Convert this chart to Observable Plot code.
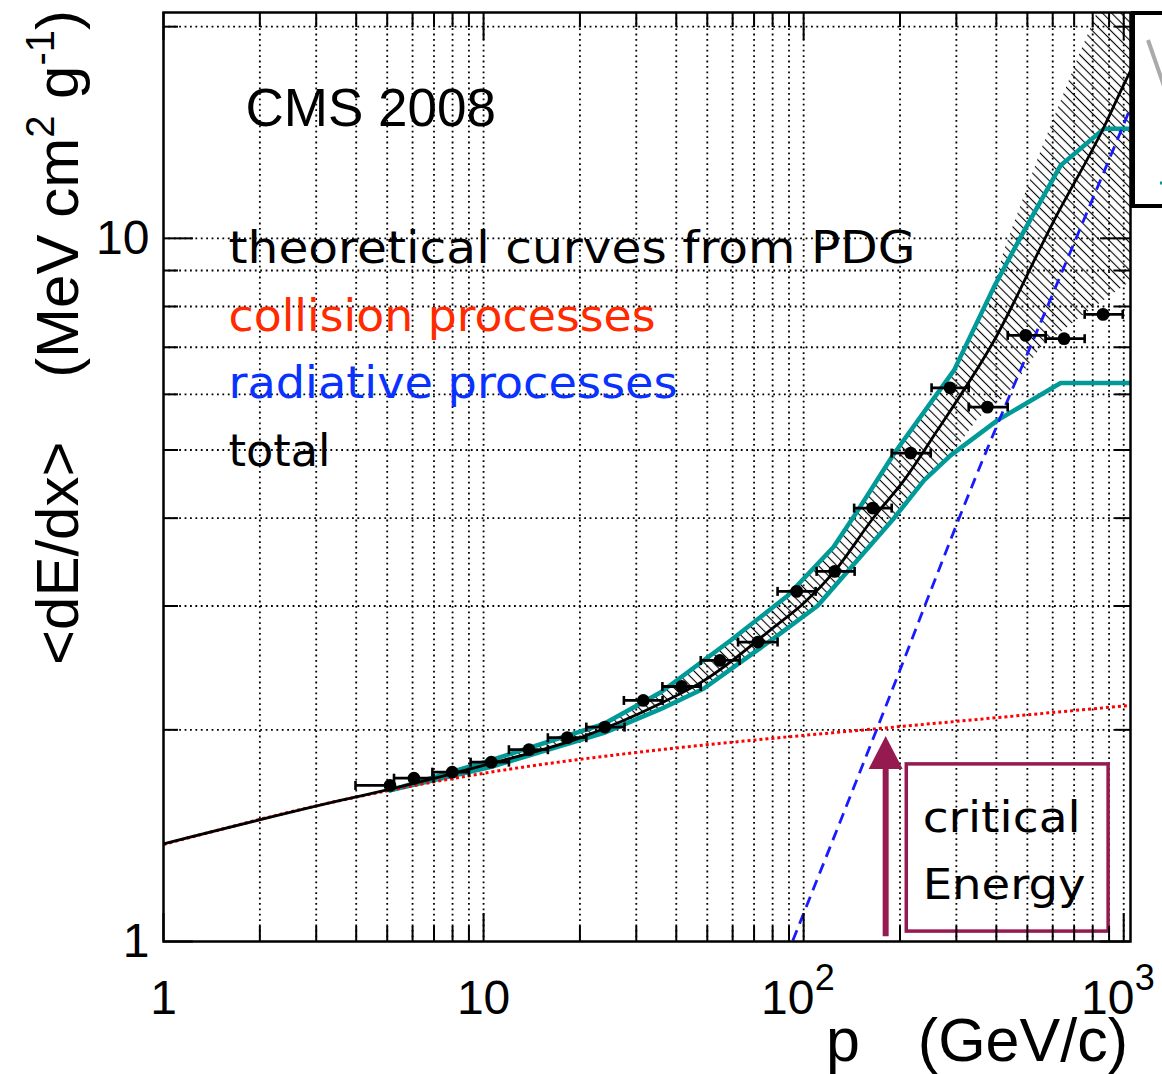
<!DOCTYPE html>
<html>
<head>
<meta charset="utf-8">
<script src="https://cdn.jsdelivr.net/npm/d3@7"></script>
<script src="https://cdn.jsdelivr.net/npm/@observablehq/plot@0.6"></script>
<style>
html, body { margin: 0; padding: 0; background: #fff; }
#chart { position: relative; width: 1162px; height: 1074px; overflow: hidden; }
</style>
</head>
<body>
<div id="chart"></div>
<script>
// ---- measured points (CMS 2008) ----
const pMeas = [5.10, 6.06, 7.98, 10.57, 13.86, 18.26, 23.93, 31.55, 41.58, 54.75, 71.97, 95.1, 125.0, 164.3, 216.0, 286.6, 375.0, 494.0, 651.0, 861.7];
const pLo   = [3.98, 5.25, 6.92, 9.11, 12.0, 15.88, 20.94, 27.44, 36.2, 47.7, 62.4, 82.9, 109.8, 143.8, 188.4, 251.0, 327.8, 434.0, 570.5, 755.0];
const pHi   = [5.2, 6.98, 9.0, 12.0, 15.88, 20.94, 27.57, 36.24, 47.7, 63.1, 82.9, 109.0, 144.3, 188.4, 249.5, 327.8, 434.0, 570.5, 755.0, 993.0];
const dEdx  = [1.667, 1.707, 1.741, 1.799, 1.874, 1.949, 2.018, 2.202, 2.305, 2.510, 2.666, 3.147, 3.36, 4.134, 4.95, 6.13, 5.754, 7.278, 7.199, 7.796];

// ---- theoretical curves from PDG ----
const collP = [1, 3.57, 10.5, 35.7, 84.8, 155, 1050];
const collV = [1.374, 1.587, 1.741, 1.874, 1.95, 2.0, 2.167];
const radP  = [88.2, 169, 345, 613, 1027, 1050];
const radV  = [0.95, 2.0, 4.58, 8.53, 14.96, 15.33];
const totP  = [1, 3.57, 5.23, 10.5, 20.1, 35.7, 48.8, 80.8, 100.2, 124.3, 165.9, 205.8, 261.7, 393.3, 605.5, 867.9, 1027, 1050];
const totV  = [1.377, 1.587, 1.651, 1.79, 1.95, 2.18, 2.35, 2.8, 3.03, 3.353, 4.015, 4.526, 5.333, 7.15, 10.6, 14.4, 16.96, 17.3];

// ---- teal envelope curves ----
const tealUpP = [5.1, 10.5, 23.8, 35.7, 59.1, 88.9, 124, 145, 191.5, 294.9, 393.3, 476.4, 635.3, 867.9, 1050];
const tealUpV = [1.64, 1.81, 2.04, 2.26, 2.68, 3.1, 3.64, 4.05, 4.94, 6.49, 8.53, 10.04, 12.7, 14.32, 14.32];
const tealLoP = [5.1, 10.5, 23.8, 35.7, 48.8, 80.8, 110.4, 191.5, 237.7, 287.9, 402.9, 635.3, 1050];
const tealLoV = [1.64, 1.77, 1.98, 2.14, 2.29, 2.7, 3.0, 4.0, 4.526, 4.913, 5.51, 6.227, 6.227];

// ---- hatched uncertainty band ----
const hatchUpP = [5.1, 10.5, 23.8, 35.7, 59.1, 88.9, 124, 145, 191.5, 294.9, 393.3, 421.7, 550.5, 734, 817.6, 847, 1200];
const hatchUpV = [1.64, 1.81, 2.04, 2.26, 2.68, 3.1, 3.64, 4.05, 4.94, 6.49, 8.53, 9.61, 13.34, 18.5, 20.76, 22.2, 22.2];
const hatchLoP = [5.1, 10.5, 23.8, 35.7, 48.8, 80.8, 110.4, 191.5, 237.7, 287.9, 350, 433, 550, 750, 1050, 1200];
const hatchLoV = [1.64, 1.77, 1.98, 2.14, 2.29, 2.7, 3.0, 4.0, 4.526, 4.913, 5.55, 6.0, 7.0, 7.8, 8.7, 9.0];

// ---- critical energy annotation ----
const critP = [180.4];
const critTip = [1.96];
const critBase = [1.016];

// ---- axes ticks ----
const xTickVals = [1, 10, 100, 1000];
const xTickBase = ["1", "10", "10", "10"];
const xTickExp  = ["", "", "2", "3"];
const xMinor = [2,3,4,5,6,7,8,9,20,30,40,50,60,70,80,90,200,300,400,500,600,700,800,900];
const xGrid  = [2,3,4,5,6,7,8,9,10,20,30,40,50,60,70,80,90,100,200,300,400,500,600,700,800,900,1000];
const yTickVals = [1, 10];
const yTickLabels = ["1", "10"];
const yMinor = [2,3,4,5,6,7,8,9,20];
const yGrid  = [2,3,4,5,6,7,8,9,10,20];

// ---- build tables ----
const pts = (P, V) => P.map((p, i) => ({p, v: V[i]}));
const meas = pMeas.map((p, i) => ({p, v: dEdx[i], lo: pLo[i], hi: pHi[i]}));
const coll = pts(collP, collV);
const rad = pts(radP, radV);
const tot = pts(totP, totV);
const tealUp = pts(tealUpP, tealUpV);
const tealLo = pts(tealLoP, tealLoV);
const hatchPoly = [...pts(hatchUpP, hatchUpV), ...pts(hatchLoP, hatchLoV).reverse()];
const xTicks = xTickVals.map((v, i) => ({v, base: xTickBase[i], exp: xTickExp[i]}));
const yTicks = yTickVals.map((v, i) => ({v, label: yTickLabels[i]}));
const crit = critP.map((p, i) => ({p, tip: critTip[i], base: critBase[i]}));

const W = 1162, H = 1074, mL = 163, mR = 32, mT = 12, mB = 133;
const FW = W - mL - mR, FH = H - mT - mB;

const capSymbol = {draw(ctx) { ctx.moveTo(0, -4.5); ctx.lineTo(0, 4.5); }};
const headSymbol = {draw(ctx) { ctx.moveTo(0, 0); ctx.lineTo(17, 33); ctx.lineTo(-17, 33); ctx.closePath(); }};

const MAROON = "#951a50";
const TEAL = "#009a98";
const comic = "DejaVu Sans, sans-serif";
const GRID = {stroke: "#000", strokeWidth: 1.8, strokeDasharray: "1.8,3.6"};

const plot = Plot.plot({
  width: W, height: H,
  marginLeft: mL, marginRight: mR, marginTop: mT, marginBottom: mB,
  x: {type: "log", domain: [1, 1050], axis: null},
  y: {type: "log", domain: [1, 20.95], axis: null},
  style: {fontFamily: "Liberation Sans, Arial, sans-serif", background: "#fff", color: "#000"},
  marks: [
    () => {
      const defs = d3.create("svg:defs");
      const pat = defs.append("pattern").attr("id", "hatch")
        .attr("patternUnits", "userSpaceOnUse").attr("width", 6.5).attr("height", 6.5)
        .attr("patternTransform", "rotate(-45)");
      pat.append("line").attr("x1", 3.25).attr("y1", -1).attr("x2", 3.25).attr("y2", 7.5)
        .attr("stroke", "#000").attr("stroke-width", 1.1);
      return defs.node();
    },
    // grid
    Plot.ruleX(xGrid, GRID),
    Plot.ruleY(yGrid, GRID),
    // hatched band
    Plot.line(hatchPoly, {x: "p", y: "v", fill: "url(#hatch)", stroke: "none", clip: true}),
    // teal envelopes
    Plot.line(tealUp, {x: "p", y: "v", stroke: TEAL, strokeWidth: 4.5, clip: true}),
    Plot.line(tealLo, {x: "p", y: "v", stroke: TEAL, strokeWidth: 4.5, clip: true}),
    // collision (red dotted)
    Plot.line(coll, {x: "p", y: "v", stroke: "#ff0000", strokeWidth: 3, strokeDasharray: "3,3", strokeLinecap: "butt", curve: "monotone-x", clip: true}),
    // radiative (blue dashed)
    Plot.line(rad, {x: "p", y: "v", stroke: "#1a1aff", strokeWidth: 2.8, strokeDasharray: "11,7", strokeLinecap: "butt", curve: "monotone-x", clip: true}),
    // total (black)
    Plot.line(tot, {x: "p", y: "v", stroke: "#000", strokeWidth: 2.8, curve: "monotone-x", clip: true}),
    // measurements
    Plot.ruleY(meas, {y: "v", x1: "lo", x2: "hi", stroke: "#000", strokeWidth: 2.8}),
    Plot.dot(meas, {x: "lo", y: "v", symbol: capSymbol, stroke: "#000", strokeWidth: 2.6, fill: "none"}),
    Plot.dot(meas, {x: "hi", y: "v", symbol: capSymbol, stroke: "#000", strokeWidth: 2.6, fill: "none"}),
    Plot.dot(meas, {x: "p", y: "v", r: 6.4, fill: "#000", stroke: "none"}),
    // critical energy arrow and box
    Plot.ruleX(crit, {x: "p", y1: "base", y2: d => d.tip * 0.9, stroke: MAROON, strokeWidth: 6}),
    Plot.dot(crit, {x: "p", y: "tip", symbol: headSymbol, fill: MAROON, stroke: "none"}),
    Plot.rect([{x1: 210, x2: 897, y1: 1.033, y2: 1.786}], {x1: "x1", x2: "x2", y1: "y1", y2: "y2", fill: "none", stroke: MAROON, strokeWidth: 3.5}),
    Plot.text(["critical"], {x: 235.4, y: 1.429, text: d => d, textAnchor: "start", lineAnchor: "bottom", fontSize: 42, fontFamily: comic, fill: "#000"}),
    Plot.text(["Energy"], {x: 235.4, y: 1.151, text: d => d, textAnchor: "start", lineAnchor: "bottom", fontSize: 42, fontFamily: comic, fill: "#000"}),
    // legend / labels
    Plot.text(["CMS 2008"], {frameAnchor: "top-left", dx: 82, dy: 113, text: d => d, textAnchor: "start", lineAnchor: "bottom", fontSize: 53, fill: "#000"}),
    Plot.text(["theoretical curves from PDG"], {frameAnchor: "top-left", dx: 65, dy: 250, text: d => d, textAnchor: "start", lineAnchor: "bottom", fontSize: 45, fontFamily: comic, fill: "#000"}),
    Plot.text(["collision processes"], {frameAnchor: "top-left", dx: 65, dy: 318, text: d => d, textAnchor: "start", lineAnchor: "bottom", fontSize: 45, fontFamily: comic, fill: "#ff2a00"}),
    Plot.text(["radiative processes"], {frameAnchor: "top-left", dx: 65, dy: 385, text: d => d, textAnchor: "start", lineAnchor: "bottom", fontSize: 45, fontFamily: comic, fill: "#0a32ff"}),
    Plot.text(["total"], {frameAnchor: "top-left", dx: 65, dy: 453, text: d => d, textAnchor: "start", lineAnchor: "bottom", fontSize: 45, fontFamily: comic, fill: "#000"}),
    // frame
    Plot.frame({stroke: "#000", strokeWidth: 2.5}),
    // ticks (inside)
    Plot.tickX(xTickVals, {x: d => d, insetTop: FH - 28, stroke: "#000", strokeWidth: 2}),
    Plot.tickX(xMinor, {x: d => d, insetTop: FH - 15, stroke: "#000", strokeWidth: 2}),
    Plot.tickX(xTickVals, {x: d => d, insetBottom: FH - 28, stroke: "#000", strokeWidth: 2}),
    Plot.tickX(xMinor, {x: d => d, insetBottom: FH - 15, stroke: "#000", strokeWidth: 2}),
    Plot.tickY(yTickVals, {y: d => d, insetRight: FW - 30, stroke: "#000", strokeWidth: 2}),
    Plot.tickY(yMinor, {y: d => d, insetRight: FW - 15, stroke: "#000", strokeWidth: 2}),
    Plot.tickY(yTickVals, {y: d => d, insetLeft: FW - 30, stroke: "#000", strokeWidth: 2}),
    Plot.tickY(yMinor, {y: d => d, insetLeft: FW - 15, stroke: "#000", strokeWidth: 2}),
    // tick labels
    Plot.text(xTicks, {filter: d => !d.exp, x: "v", text: "base", frameAnchor: "bottom", dy: 72, lineAnchor: "bottom", textAnchor: "middle", fontSize: 48, fill: "#000"}),
    Plot.text(xTicks, {filter: d => d.exp, x: "v", text: "base", frameAnchor: "bottom", dy: 72, dx: -16, lineAnchor: "bottom", textAnchor: "middle", fontSize: 48, fill: "#000"}),
    Plot.text(xTicks, {filter: d => d.exp, x: "v", text: "exp", frameAnchor: "bottom", dy: 48, dx: 11, lineAnchor: "bottom", textAnchor: "start", fontSize: 36, fill: "#000"}),
    Plot.text(yTicks, {y: "v", text: "label", frameAnchor: "left", dx: -14, textAnchor: "end", lineAnchor: "middle", fontSize: 48, fill: "#000"})
  ]
});

document.getElementById("chart").append(plot);

// stretch hand-written labels to the reference widths
const widths = {"theoretical curves from PDG": 687, "collision processes": 427, "radiative processes": 449, "total": 102, "critical": 158, "Energy": 163};
d3.select(plot).selectAll("text").each(function () {
  const t = this.textContent;
  if (widths[t]) {
    this.setAttribute("textLength", widths[t]);
    this.setAttribute("lengthAdjust", "spacingAndGlyphs");
  }
});

const svg = d3.select(plot);
const font = "Liberation Sans, Arial, sans-serif";
// x-axis title
svg.append("text").attr("x", 826).attr("y", 1061).attr("text-anchor", "start").attr("font-family", font).attr("font-size", 61).attr("fill", "#000").text("p");
svg.append("text").attr("x", 1128).attr("y", 1061).attr("text-anchor", "end").attr("font-family", font).attr("font-size", 61).attr("fill", "#000").text("(GeV/c)");
// y-axis title
svg.append("text").attr("transform", "translate(78,665) rotate(-90)").attr("text-anchor", "start").attr("font-family", font).attr("font-size", 60).attr("fill", "#000").text("<dE/dx>");
const yt = svg.append("text").attr("transform", "translate(78,10) rotate(-90)").attr("text-anchor", "end").attr("font-family", font).attr("font-size", 60).attr("fill", "#000");
yt.append("tspan").text("(MeV cm");
yt.append("tspan").attr("font-size", 40).attr("dy", -24).text("2");
yt.append("tspan").attr("dy", 24).text(" g");
yt.append("tspan").attr("font-size", 40).attr("dy", -24).text("-1");
yt.append("tspan").attr("dy", 24).text(")");
// truncated legend box at the right edge
svg.append("rect").attr("x", 1133).attr("y", 13).attr("width", 60).attr("height", 193).attr("fill", "#fff").attr("stroke", "#000").attr("stroke-width", 4);
svg.append("line").attr("x1", 1148).attr("y1", 40).attr("x2", 1166).attr("y2", 92).attr("stroke", "#aaa").attr("stroke-width", 4);
svg.append("line").attr("x1", 1160).attr("y1", 183).attr("x2", 1170).attr("y2", 183).attr("stroke", TEAL).attr("stroke-width", 3);
</script>
</body>
</html>
